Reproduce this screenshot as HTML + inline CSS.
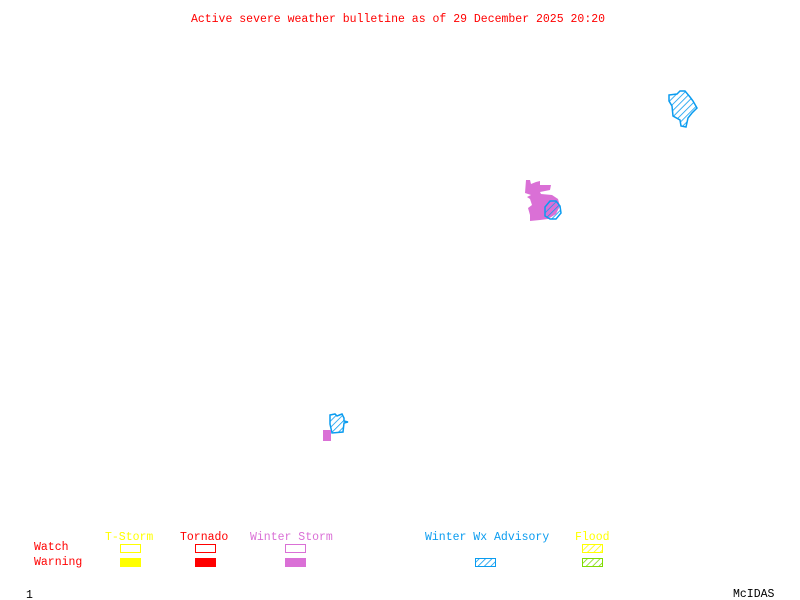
<!DOCTYPE html>
<html><head><meta charset="utf-8"><style>
html,body{margin:0;padding:0;background:#fff;}
svg{display:block}
text{font-family:"Liberation Mono",monospace;font-size:11.5px;}
</style></head><body>
<svg width="800" height="600" xmlns="http://www.w3.org/2000/svg">
<defs>
<pattern id="hb" width="4.5" height="4.5" patternUnits="userSpaceOnUse" patternTransform="rotate(45)"><line x1="0" y1="0" x2="0" y2="5" stroke="#0a9cf0" stroke-width="1.6"/></pattern>
<pattern id="hy" width="4.5" height="4.5" patternUnits="userSpaceOnUse" patternTransform="rotate(45)"><line x1="0" y1="0" x2="0" y2="5" stroke="#ffff00" stroke-width="1.6"/></pattern>
<pattern id="hg" width="4.5" height="4.5" patternUnits="userSpaceOnUse" patternTransform="rotate(45)"><line x1="0" y1="0" x2="0" y2="5" stroke="#7fdc00" stroke-width="1.6"/></pattern>
</defs>
<rect width="800" height="600" fill="#fff"/>
<text x="398" y="22" fill="#ff0000" text-anchor="middle">Active severe weather bulletine as of 29 December 2025 20:20</text>

<polygon points="669,95 677,94 680,91 685,91 690,97 693,101 697,108 692,113 688,118 686,127 681,126 680,120 673,116 672,106 669,101" fill="url(#hb)" stroke="#0a9cf0" stroke-width="1.5"/>
<polygon points="526,180 530,180 531,184 536,182 540,181 540,185 551,185 550,190 540,192 541,194 552,195 558,199 560,206 556,214 548,219 540,220 530,221 530,215 528,208 532,205 530,199 527,197 531,195 525,193" fill="#da70d6"/>
<polygon points="545,207 550,201 556,201 560,206 561,213 556,219 550,219 545,216" fill="url(#hb)" stroke="#0a9cf0" stroke-width="1.5"/>
<polygon points="330,415 335,414 337,416 342,414 344,418 344,421 348,422 344,423 343,432 332,433 330,424" fill="url(#hb)" stroke="#0a9cf0" stroke-width="1.5"/>
<rect x="323" y="430" width="8" height="11" fill="#da70d6"/>

<text x="105" y="540" fill="#ffff00">T-Storm</text>
<text x="180" y="540" fill="#ff0000">Tornado</text>
<text x="250" y="540" fill="#da70d6">Winter Storm</text>
<text x="425" y="540" fill="#0a9cf0">Winter Wx Advisory</text>
<text x="575" y="540" fill="#ffff00">Flood</text>
<text x="34" y="550" fill="#ff0000">Watch</text>
<text x="34" y="565" fill="#ff0000">Warning</text>
<rect x="120.5" y="544.5" width="20" height="8" fill="none" stroke="#ffff00"/>
<rect x="195.5" y="544.5" width="20" height="8" fill="none" stroke="#ff0000"/>
<rect x="285.5" y="544.5" width="20" height="8" fill="none" stroke="#da70d6"/>
<rect x="582.5" y="544.5" width="20" height="8" fill="url(#hy)" stroke="#ffff00"/>
<rect x="120" y="558" width="21" height="9" fill="#ffff00"/>
<rect x="195" y="558" width="21" height="9" fill="#ff0000"/>
<rect x="285" y="558" width="21" height="9" fill="#da70d6"/>
<rect x="475.5" y="558.5" width="20" height="8" fill="url(#hb)" stroke="#0a9cf0"/>
<rect x="582.5" y="558.5" width="20" height="8" fill="url(#hg)" stroke="#7fdc00"/>
<text x="26" y="598" fill="#000">1</text>
<text x="733" y="597" fill="#000">McIDAS</text>
</svg>
</body></html>
